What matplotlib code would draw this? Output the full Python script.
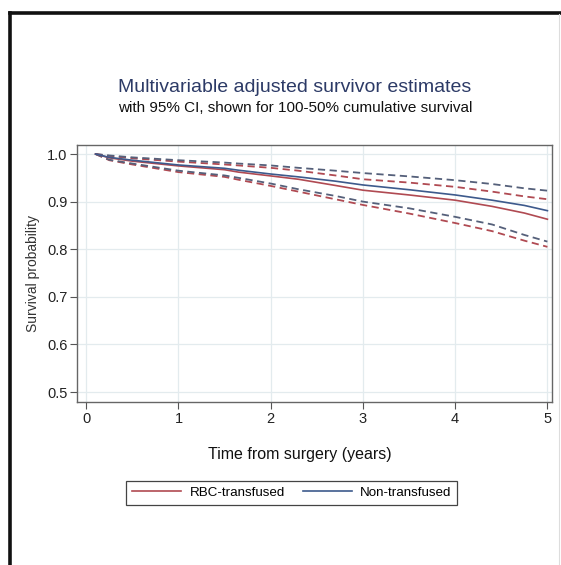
import matplotlib
matplotlib.use("Agg")
import matplotlib.pyplot as plt
from matplotlib.lines import Line2D

plt.rcParams['font.family'] = ['Liberation Sans', 'DejaVu Sans']

# time points (years)
years = [0.1, 0.25, 0.5, 1.0, 1.5, 1.65, 2.0, 2.3, 2.7, 3.0, 3.5, 4.0, 4.4, 4.75, 5.0]

# non-transfused (blue)
non_est = [1.0, 0.993, 0.987, 0.977, 0.970, 0.966, 0.958, 0.952, 0.943, 0.935, 0.925, 0.914, 0.903, 0.892, 0.881]
non_hi = [1.0, 0.997, 0.993, 0.987, 0.982, 0.980, 0.976, 0.971, 0.965, 0.960, 0.953, 0.945, 0.937, 0.928, 0.923]
non_lo = [1.0, 0.988, 0.980, 0.965, 0.955, 0.950, 0.938, 0.926, 0.912, 0.900, 0.886, 0.868, 0.852, 0.830, 0.816]

# RBC-transfused (red)
rbc_est = [1.0, 0.992, 0.985, 0.975, 0.967, 0.962, 0.954, 0.947, 0.934, 0.924, 0.914, 0.903, 0.890, 0.876, 0.863]
rbc_hi = [1.0, 0.996, 0.991, 0.984, 0.978, 0.976, 0.971, 0.965, 0.955, 0.947, 0.940, 0.931, 0.921, 0.911, 0.905]
rbc_lo = [1.0, 0.987, 0.978, 0.962, 0.952, 0.946, 0.933, 0.921, 0.905, 0.893, 0.875, 0.855, 0.838, 0.818, 0.805]

red = '#b04a52'
blue = '#3d5a8c'

fig = plt.figure(figsize=(5.61, 5.65), dpi=100)
ax = fig.add_axes([0.1373, 0.2885, 0.8467, 0.4549])

ax.plot(years, rbc_hi, color=red, lw=1.3, ls=(0, (4, 2.5)))
ax.plot(years, rbc_lo, color=red, lw=1.3, ls=(0, (4, 2.5)))
ax.plot(years, non_hi, color='#55607a', lw=1.3, ls=(0, (4, 2.5)))
ax.plot(years, non_lo, color='#55607a', lw=1.3, ls=(0, (4, 2.5)))
l1, = ax.plot(years, rbc_est, color=red, lw=1.2)
l2, = ax.plot(years, non_est, color=blue, lw=1.2)

ax.set_xlim(-0.1, 5.05)
ax.set_ylim(0.479, 1.019)
ax.set_xticks([0, 1, 2, 3, 4, 5])
ax.set_yticks([0.5, 0.6, 0.7, 0.8, 0.9, 1.0])
ax.set_yticklabels(['0.5', '0.6', '0.7', '0.8', '0.9', '1.0'])
ax.grid(True, color='#e3ebee', lw=0.9)
ax.set_axisbelow(True)
for s in ax.spines.values():
    s.set_color('#666666')
    s.set_linewidth(1.0)
ax.tick_params(direction='out', length=5, width=0.8, color='#555555',
               labelsize=10.5, labelcolor='#222222', pad=2)

ax.set_ylabel('Survival probability', fontsize=10, color='#333333')
ax.yaxis.set_label_coords(-0.078, 0.5)
fig.text(0.535, 0.195, 'Time from surgery (years)', ha='center', va='center',
         fontsize=11.5, color='#111111')

fig.text(0.526, 0.845, 'Multivariable adjusted survivor estimates', ha='center',
         va='center', fontsize=14, color='#2c3a66')
fig.text(0.526, 0.808, 'with 95% CI, shown for 100-50% cumulative survival',
         ha='center', va='center', fontsize=11, color='#111111')

leg = fig.legend([l1, l2], ['RBC-transfused', 'Non-transfused'], loc='center',
                 bbox_to_anchor=(0.52, 0.128), ncol=2, fontsize=9.6,
                 fancybox=False, edgecolor='#444444', framealpha=1,
                 handlelength=3.7, handletextpad=0.6, columnspacing=1.35,
                 borderpad=0.45, borderaxespad=0)
leg.get_frame().set_linewidth(0.9)

# outer frame of the original page
fig.add_artist(Line2D([10 / 561, 10 / 561], [0, 1 - 13 / 565], color='#111111', lw=2.6))
fig.add_artist(Line2D([10 / 561, 1], [1 - 13 / 565, 1 - 13 / 565], color='#111111', lw=2.6))
fig.add_artist(Line2D([559 / 561, 559 / 561], [0, 1 - 14 / 565], color='#dddddd', lw=0.8))

fig.savefig('out.png', dpi=100)
